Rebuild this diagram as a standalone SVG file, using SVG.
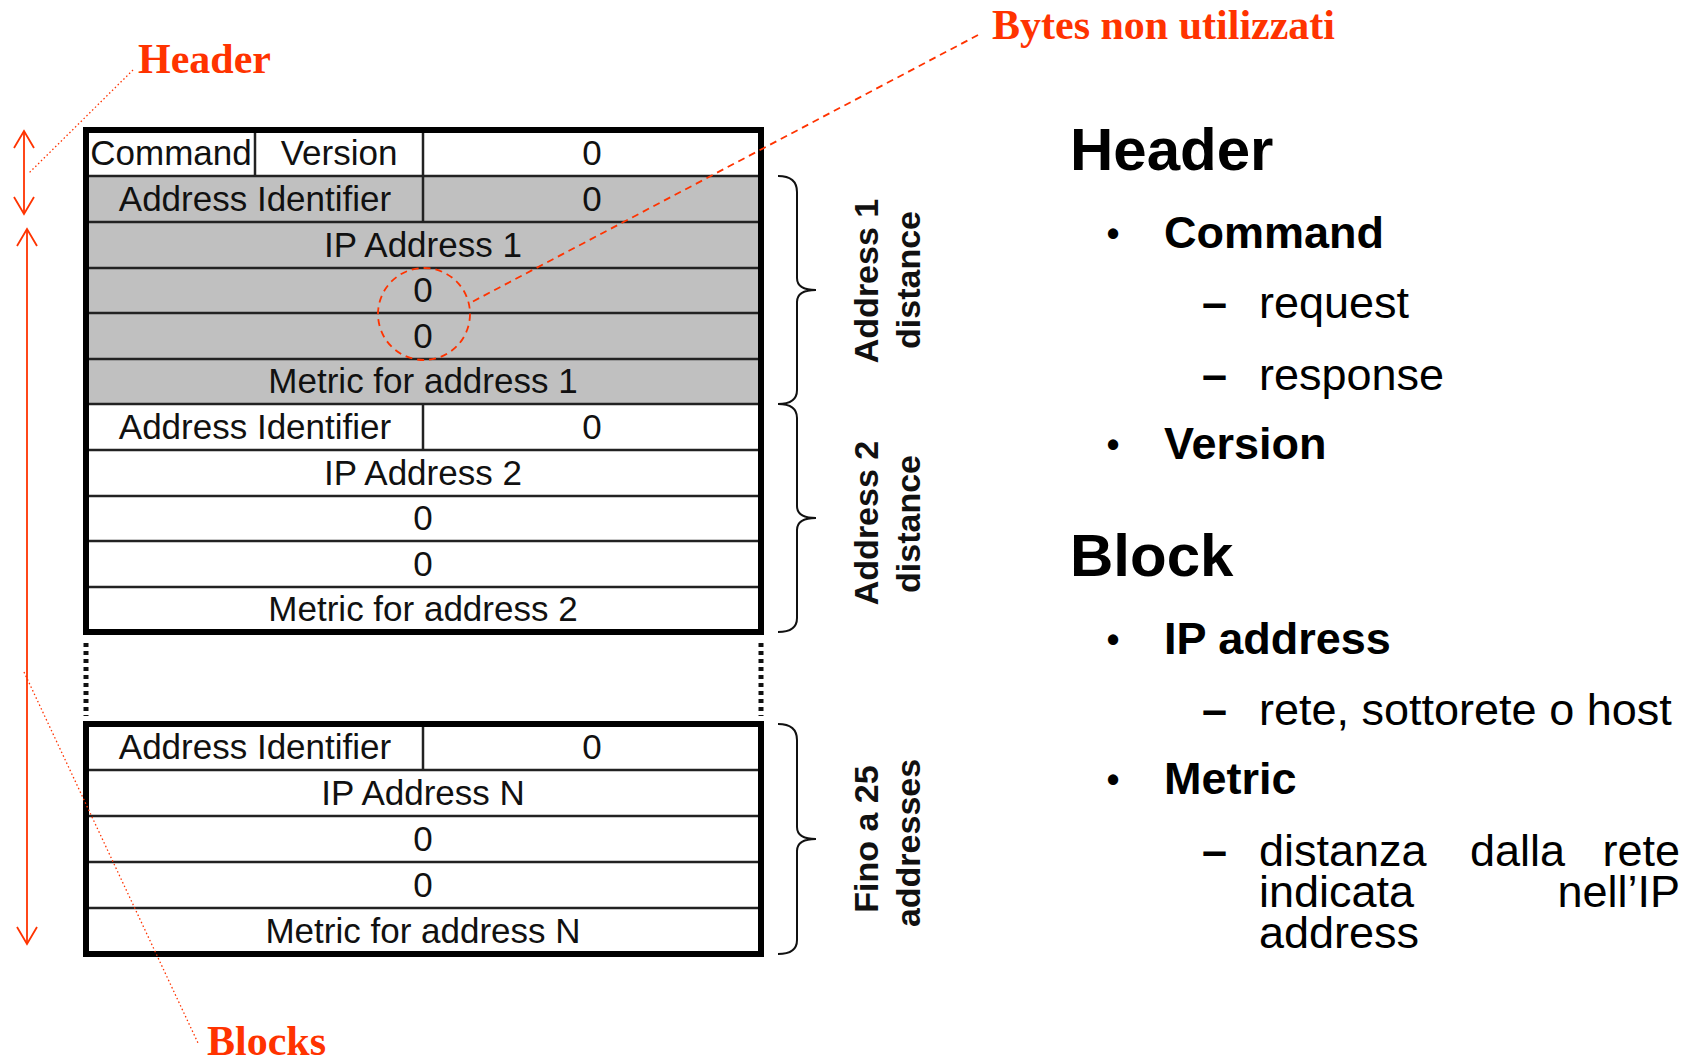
<svg xmlns="http://www.w3.org/2000/svg" width="1695" height="1061" viewBox="0 0 1695 1061">
<defs>
<style>
.red{font-family:"Liberation Serif","Times New Roman",serif;font-weight:bold;font-size:42px;fill:#ff3300}
.cell{font-family:"Liberation Sans",Arial,sans-serif;font-size:35px;fill:#111;text-anchor:middle}
.rl{stroke:#222;stroke-width:2.5;fill:none}
.outer{stroke:#000;stroke-width:6;fill:none}
.gray{fill:#c0c0c0}
.brace{stroke:#111;stroke-width:2;fill:none}
.rot{font-family:"Liberation Sans",Arial,sans-serif;font-size:34px;font-weight:bold;fill:#111;text-anchor:middle}
.h1{font-family:"Liberation Sans",Arial,sans-serif;font-size:60px;font-weight:bold;fill:#000}
.b1{font-family:"Liberation Sans",Arial,sans-serif;font-size:45px;font-weight:bold;fill:#000}
.bul{font-family:"Liberation Sans",Arial,sans-serif;font-size:36px;font-weight:bold;fill:#000;text-anchor:middle}
.b2{font-family:"Liberation Sans",Arial,sans-serif;font-size:45px;fill:#000}
.arr{stroke:#ff3300;stroke-width:1.8;fill:none}
.dot{stroke:#ff3300;stroke-width:1.3;fill:none;stroke-dasharray:1.5 2.5}
.dash{stroke:#ff3300;stroke-width:1.8;fill:none;stroke-dasharray:7 5}
</style>
</defs>
<rect width="1695" height="1061" fill="#fff"/>

<g id="table1">
<rect class="gray" x="86" y="176" width="675" height="228"/>
<line class="rl" x1="86" y1="176" x2="761" y2="176"/>
<line class="rl" x1="86" y1="222" x2="761" y2="222"/>
<line class="rl" x1="86" y1="268" x2="761" y2="268"/>
<line class="rl" x1="86" y1="313" x2="761" y2="313"/>
<line class="rl" x1="86" y1="359" x2="761" y2="359"/>
<line class="rl" x1="86" y1="404" x2="761" y2="404"/>
<line class="rl" x1="86" y1="450" x2="761" y2="450"/>
<line class="rl" x1="86" y1="496" x2="761" y2="496"/>
<line class="rl" x1="86" y1="541" x2="761" y2="541"/>
<line class="rl" x1="86" y1="587" x2="761" y2="587"/>
<line class="rl" x1="255" y1="130" x2="255" y2="176"/>
<line class="rl" x1="423" y1="130" x2="423" y2="222"/>
<line class="rl" x1="423" y1="404" x2="423" y2="450"/>
<rect class="outer" x="86" y="130" width="675" height="502"/>
<text class="cell" x="171" y="165">Command</text>
<text class="cell" x="339" y="165">Version</text>
<text class="cell" x="592" y="165">0</text>
<text class="cell" x="255" y="211">Address Identifier</text>
<text class="cell" x="592" y="211">0</text>
<text class="cell" x="423" y="257">IP Address 1</text>
<text class="cell" x="423" y="302">0</text>
<text class="cell" x="423" y="348">0</text>
<text class="cell" x="423" y="393">Metric for address 1</text>
<text class="cell" x="255" y="439">Address Identifier</text>
<text class="cell" x="592" y="439">0</text>
<text class="cell" x="423" y="485">IP Address 2</text>
<text class="cell" x="423" y="530">0</text>
<text class="cell" x="423" y="576">0</text>
<text class="cell" x="423" y="621">Metric for address 2</text>
</g>

<g id="gap">
<line x1="86" y1="643" x2="86" y2="716" stroke="#111" stroke-width="5" stroke-dasharray="4 4"/>
<line x1="761" y1="643" x2="761" y2="716" stroke="#111" stroke-width="5" stroke-dasharray="4 4"/>
</g>

<g id="tableN">
<line class="rl" x1="86" y1="770" x2="761" y2="770"/>
<line class="rl" x1="86" y1="816" x2="761" y2="816"/>
<line class="rl" x1="86" y1="862" x2="761" y2="862"/>
<line class="rl" x1="86" y1="908" x2="761" y2="908"/>
<line class="rl" x1="423" y1="724" x2="423" y2="770"/>
<rect class="outer" x="86" y="724" width="675" height="230"/>
<text class="cell" x="255" y="759">Address Identifier</text>
<text class="cell" x="592" y="759">0</text>
<text class="cell" x="423" y="805">IP Address N</text>
<text class="cell" x="423" y="851">0</text>
<text class="cell" x="423" y="897">0</text>
<text class="cell" x="423" y="943">Metric for address N</text>
</g>

<g id="brace1">
<path class="brace" d="M778,176 Q797,176 797,192 L797,278 Q797,290 816,290 Q797,290 797,302 L797,390 Q797,404 778,404"/>
<text class="rot" transform="translate(878,281) rotate(-90)">Address 1</text>
<text class="rot" transform="translate(920,280) rotate(-90)">distance</text>
</g>
<g id="brace2">
<path class="brace" d="M778,404 Q797,404 797,418 L797,506 Q797,518 816,518 Q797,518 797,530 L797,618 Q797,632 778,632"/>
<text class="rot" transform="translate(878,523) rotate(-90)">Address 2</text>
<text class="rot" transform="translate(920,524) rotate(-90)">distance</text>
</g>
<g id="brace3">
<path class="brace" d="M778,724 Q797,724 797,740 L797,827 Q797,839 816,839 Q797,839 797,851 L797,940 Q797,954 778,954"/>
<text class="rot" transform="translate(878,839) rotate(-90)">Fino a 25</text>
<text class="rot" transform="translate(920,843) rotate(-90)">addresses</text>
</g>

<g id="labels">
<text id="lbl-header" class="red" x="138" y="73">Header</text>
<text id="lbl-bytes" class="red" x="992" y="39">Bytes non utilizzati</text>
<text id="lbl-blocks" class="red" x="207" y="1055">Blocks</text>
</g>

<g id="notes">
<text class="h1" x="1070" y="170">Header</text>
<text class="bul" x="1113" y="246">•</text>
<text class="b1" x="1164" y="248">Command</text>
<text class="b1" x="1202" y="318">–</text>
<text class="b2" x="1259" y="318">request</text>
<text class="b1" x="1202" y="390">–</text>
<text class="b2" x="1259" y="390">response</text>
<text class="bul" x="1113" y="457">•</text>
<text class="b1" x="1164" y="459">Version</text>
<text class="h1" x="1070" y="576">Block</text>
<text class="bul" x="1113" y="652">•</text>
<text class="b1" x="1164" y="654">IP address</text>
<text class="b1" x="1202" y="725">–</text>
<text class="b2" x="1259" y="725">rete, sottorete o host</text>
<text class="bul" x="1113" y="792">•</text>
<text class="b1" x="1164" y="794">Metric</text>
<text class="b1" x="1202" y="866">–</text>
<text class="b2" x="1259" y="866">distanza</text>
<text class="b2" x="1470" y="866">dalla</text>
<text class="b2" x="1680" y="866" text-anchor="end">rete</text>
<text class="b2" x="1259" y="907">indicata</text>
<text class="b2" x="1680" y="907" text-anchor="end">nell’IP</text>
<text class="b2" x="1259" y="948">address</text>
</g>

<g id="connectors">
<line class="arr" x1="24" y1="131" x2="24" y2="214"/>
<polyline class="arr" points="14,148 24,131 34,148"/>
<polyline class="arr" points="14,197 24,214 34,197"/>
<line class="arr" x1="27" y1="229" x2="27" y2="944"/>
<polyline class="arr" points="17,246 27,229 37,246"/>
<polyline class="arr" points="17,927 27,944 37,927"/>
<line class="dot" x1="133" y1="70" x2="29" y2="173"/>
<line class="dot" x1="24" y1="672" x2="198" y2="1043"/>
<line class="dash" x1="978" y1="35" x2="470" y2="303"/>
<ellipse class="dash" cx="424" cy="314" rx="46" ry="46"/>
</g>
</svg>
